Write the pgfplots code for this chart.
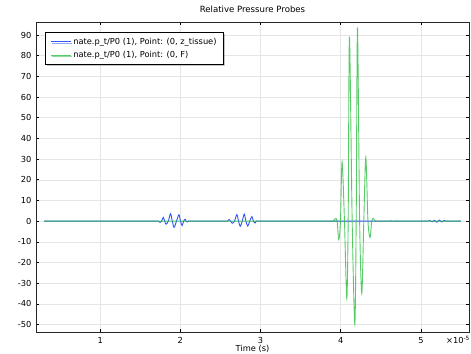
\documentclass[border=0pt]{standalone}
\usepackage{pgfplots}
\pgfplotsset{compat=1.18}
\usepackage{fontspec}
\setmainfont{DejaVu Sans}
\usetikzlibrary{shadows}
\definecolor{cblue}{RGB}{45,85,250}
\definecolor{cgreen}{RGB}{45,190,65}
\begin{document}
\fontsize{8}{9.5}\selectfont
\begin{tikzpicture}
\begin{axis}[
  scale only axis,
  width=433bp, height=310bp,
  xmin=0.2, xmax=5.6,
  ymin=-53.6, ymax=96.3,
  xtick={1,2,3,4,5},
  ytick={-50,-40,-30,-20,-10,0,10,20,30,40,50,60,70,80,90},
  /pgf/number format/assume math mode=true,
  ticklabel style={font=\fontsize{8.3}{9.5}\selectfont},
  xticklabel style={anchor=base, inner sep=0pt, yshift=-11.5bp},
  yticklabel style={anchor=east, inner sep=0pt, xshift=-4.5bp},
  tick align=inside,
  major tick length=3bp,
  tick style={black, line width=0.6pt},
  axis line style={black!85, line width=0.9pt},
  grid=major,
  major grid style={black!10, line width=0.5pt},
  title={Relative Pressure Probes},
  title style={anchor=base, at={(axis description cs:0.5,1)}, yshift=4bp, inner sep=0pt, font=\fontsize{8.6}{9.5}\selectfont},
  xlabel={Time (s)},
  xlabel style={anchor=base, at={(axis description cs:0.5,0)}, yshift=-19bp, inner sep=0pt, font=\fontsize{8.3}{9.5}\selectfont},
  legend style={at={(axis description cs:0.021,0.968)}, anchor=north west,
    draw=black, line width=0.8pt, fill=white,
    drop shadow={shadow xshift=1.2bp, shadow yshift=-1.2bp, fill=black!45},
    inner xsep=5bp, inner ysep=3.8bp, row sep=1.8bp,
    font=\fontsize{8.3}{10}\selectfont,
    nodes={inner sep=2bp}},
  legend cell align=left,
  legend image code/.code={\draw[#1, line width=0.8pt] (0bp,0bp) -- (20bp,0bp);},
]
\addplot[cblue, line width=0.9pt, smooth, tension=0.5] coordinates {
(0.3,0) (1.60,0) (1.70,0) (1.725,0) (1.747,-0.6) (1.767,0) (1.787,1.8) (1.805,0) (1.822,-1.5) (1.850,0) (1.878,3.6) (1.900,0) (1.922,-3.0) (1.952,0) (1.982,3.1) (2.002,0) (2.022,-2.1) (2.041,0) (2.060,0.9) (2.072,0) (2.085,-0.4) (2.100,0) (2.12,0) (2.30,0)
(2.55,0) (2.585,0) (2.606,0.8) (2.627,0) (2.648,-1.0) (2.676,0) (2.705,3.2) (2.726,0) (2.748,-2.5) (2.772,0) (2.797,3.4) (2.818,0) (2.840,-2.4) (2.866,0) (2.893,2.2) (2.912,0) (2.932,-0.9) (2.948,0) (2.97,0) (3.20,0)
(4.90,0) (5.08,0) (5.11,0.3) (5.14,-0.3) (5.17,0.4) (5.20,-0.5) (5.23,0.5) (5.26,-0.4) (5.29,0.3) (5.32,0) (5.35,0) (5.5,0)
};
\addlegendentry{nate.p\_t/P0 (1), Point: (0, z\_tissue)}
\addplot[cgreen, line width=0.9pt, opacity=0.8, smooth, tension=0.5] coordinates {
(0.3,0) (3.70,0) (3.88,0) (3.905,0) (3.935,1.3) (3.955,0) (3.976,-8.9) (3.997,0) (4.017,28.7) (4.047,0) (4.076,-37.4) (4.093,0) (4.109,89.2) (4.143,0) (4.176,-49.8) (4.193,0) (4.209,93.7) (4.236,0) (4.263,-35.0) (4.288,0) (4.313,30.8) (4.340,0) (4.366,-7.9) (4.387,0) (4.408,1.3) (4.43,0) (4.46,0)
(4.60,0) (4.63,0.2) (4.66,-0.2) (4.69,0.2) (4.72,0) (4.80,0) (5.5,0)
};
\addlegendentry{nate.p\_t/P0 (1), Point: (0, F)}
\end{axis}
\node[anchor=base east, inner sep=0pt, font=\fontsize{8.3}{9.5}\selectfont] at ([xshift=1bp,yshift=-11.5bp]current axis.south east) {×10\textsuperscript{-5}};
\pgfresetboundingbox
\path[use as bounding box] ([xshift=-36bp,yshift=-22bp]current axis.south west) rectangle ([xshift=2bp,yshift=22bp]current axis.north east);
\end{tikzpicture}
\end{document}
